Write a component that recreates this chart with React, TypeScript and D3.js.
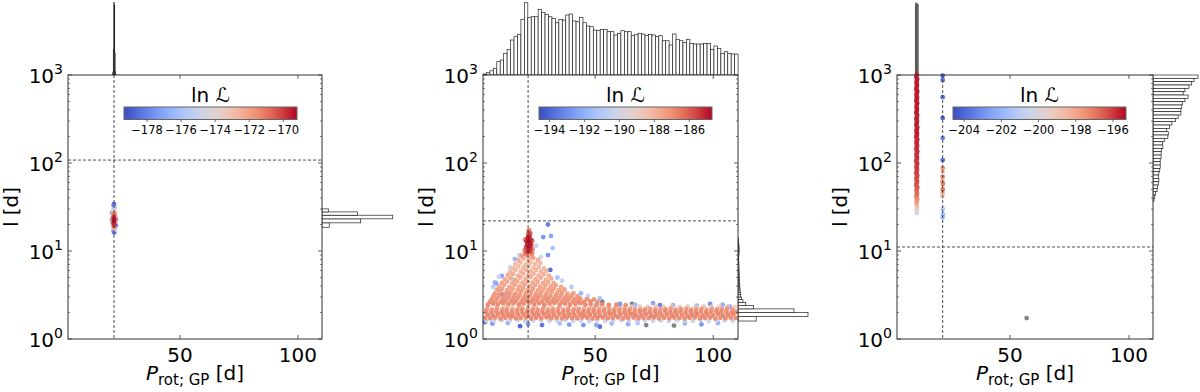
import React from 'react';
import * as d3 from 'd3';

// ---------- data ----------
// points are [P_rot (d), l (d), lnL]; lnL null -> drawn grey

// left panel: tight cluster
const p1Points = [
  [22.0,19.0,-170.6],[22.1,20.0,-169.9],[21.9,21.0,-169.6],[22.0,22.0,-169.4],[22.1,23.0,-169.5],
  [21.9,24.0,-169.9],[22.0,25.2,-170.5],[22.1,26.4,-171.2],[21.4,20.5,-171.8],[22.6,21.5,-172],
  [21.4,23.5,-171.5],[22.6,24.5,-172.2],[21.5,26,-172.8],[22.5,27.5,-173.5],[21.8,28.5,-174],
  [22.2,18,-173],[21.5,18.5,-174.2],[22.5,17.5,-175.5],[21.9,29.8,-175.5],[22.2,31,-176.5],
  [21.1,22.5,-176.8],[22.9,22.8,-177.2],[21.8,17.0,-177.5],[22.1,16.2,-178.8],[21.9,32.5,-178.2],
  [22.0,34,-179],[21.2,27,-177.8],[22.8,19.5,-178.2]
];

// middle panel: the band near l ~ 2 (rows) + cloud + peak + outliers
const bandRow1 = [[3.4,1.74],[5.6,1.72],[7.7,1.75],[9.9,1.71],[12.0,1.74],[14.2,1.76],[16.4,1.72],[18.5,1.73],[20.7,1.75],[22.9,1.71],[25.0,1.74],[27.2,1.73],[29.4,1.76],[31.5,1.72],[33.7,1.74],[35.9,1.71],[38.0,1.75],[40.2,1.73],[42.4,1.72],[44.5,1.76],[46.7,1.74],[48.9,1.71],[51.0,1.73],[53.2,1.75],[55.4,1.72],[57.5,1.74],[59.7,1.76],[61.9,1.71],[64.0,1.73],[66.2,1.75],[68.4,1.72],[70.5,1.74],[72.7,1.73],[74.9,1.76],[77.0,1.71],[79.2,1.74],[81.4,1.72],[83.5,1.75],[85.7,1.73],[87.9,1.71],[90.0,1.74],[92.2,1.76],[94.4,1.72],[96.5,1.73],[98.7,1.75],[100.9,1.71],[103.0,1.74],[105.2,1.72],[107.4,1.75],[109.5,1.73]];
const bandRow2 = [[4.5,1.88],[6.7,1.86],[8.8,1.90],[11.0,1.87],[13.1,1.89],[15.3,1.85],[17.5,1.88],[19.6,1.90],[21.8,1.86],[24.0,1.89],[26.1,1.87],[28.3,1.91],[30.5,1.86],[32.6,1.88],[34.8,1.90],[37.0,1.85],[39.1,1.88],[41.3,1.87],[43.5,1.90],[45.6,1.86],[47.8,1.89],[50.0,1.87],[52.1,1.85],[54.3,1.88],[56.5,1.90],[58.6,1.86],[60.8,1.89],[63.0,1.87],[65.1,1.91],[67.3,1.86],[69.5,1.88],[71.6,1.90],[73.8,1.85],[76.0,1.88],[78.1,1.87],[80.3,1.90],[82.5,1.86],[84.6,1.89],[86.8,1.87],[89.0,1.85],[91.1,1.88],[93.3,1.90],[95.5,1.86],[97.6,1.89],[99.8,1.87],[102.0,1.91],[104.1,1.86],[106.3,1.88],[108.5,1.90]];
const bandRow3 = [[3.8,2.03],[6.0,2.01],[8.1,2.05],[10.3,2.02],[12.4,2.04],[14.6,2.00],[16.8,2.03],[18.9,2.06],[21.1,2.02],[23.3,2.04],[25.4,2.01],[27.6,2.05],[29.8,2.02],[31.9,2.03],[34.1,2.06],[36.3,2.01],[38.4,2.04],[40.6,2.02],[42.8,2.05],[44.9,2.00],[47.1,2.03],[49.3,2.04],[51.4,2.02],[53.6,2.06],[55.8,2.01],[57.9,2.03],[60.1,2.05],[62.3,2.02],[64.4,2.04],[66.6,2.00],[68.8,2.03],[70.9,2.05],[73.1,2.02],[75.3,2.04],[77.4,2.01],[79.6,2.06],[81.8,2.02],[83.9,2.03],[86.1,2.05],[88.3,2.01],[90.4,2.04],[92.6,2.02],[94.8,2.06],[96.9,2.01],[99.1,2.03],[101.3,2.05],[103.4,2.02],[105.6,2.04],[107.8,2.01],[109.7,2.03]];
const bandRow4 = [[4.1,2.18],[6.3,2.16],[8.4,2.20],[10.6,2.17],[12.7,2.19],[14.9,2.15],[17.1,2.18],[19.2,2.21],[21.4,2.17],[23.6,2.19],[25.7,2.16],[27.9,2.20],[30.1,2.17],[32.2,2.18],[34.4,2.21],[36.6,2.16],[38.7,2.19],[40.9,2.17],[43.1,2.20],[45.2,2.15],[47.4,2.18],[49.6,2.19],[51.7,2.16],[53.9,2.20],[56.1,2.17],[58.2,2.18],[60.4,2.21],[62.6,2.16],[64.7,2.19],[66.9,2.17],[69.1,2.15],[71.2,2.18],[73.4,2.20],[75.6,2.16],[77.7,2.19],[79.9,2.17],[82.1,2.21],[84.2,2.16],[86.4,2.18],[88.6,2.19],[90.7,2.15],[92.9,2.18],[95.1,2.20],[97.2,2.16],[99.4,2.19],[101.6,2.17],[103.7,2.18],[105.9,2.21],[108.1,2.16]];
const bandLow = [[3.9,1.62],[7.1,1.60],[10.4,1.63],[13.8,1.61],[17.2,1.64],[20.3,1.60],[23.8,1.62],[27.1,1.63],[30.6,1.60],[33.9,1.62],[37.3,1.64],[40.7,1.61],[44.0,1.62],[47.5,1.60],[50.8,1.63],[54.2,1.61],[57.6,1.62],[61.0,1.64],[64.3,1.60],[67.7,1.62],[71.1,1.63],[74.5,1.61],[77.9,1.62],[81.2,1.60],[84.6,1.63],[88.0,1.62],[91.4,1.61],[94.7,1.64],[98.1,1.60],[101.5,1.62],[104.9,1.63],[108.2,1.61]];
const bandHigh = [[4.8,2.32],[8.2,2.35],[11.5,2.31],[14.9,2.34],[18.3,2.33],[21.7,2.36],[25.0,2.32],[28.4,2.34],[31.8,2.31],[35.2,2.35],[38.5,2.33],[41.9,2.32],[45.3,2.35],[48.7,2.31],[52.0,2.34],[55.4,2.32],[58.8,2.35],[62.2,2.31],[65.5,2.33],[68.9,2.34],[72.3,2.31],[75.7,2.35],[79.0,2.32],[82.4,2.33],[85.8,2.31],[89.2,2.34],[92.5,2.32],[95.9,2.35],[99.3,2.31],[102.7,2.33],[106.0,2.34],[109.2,2.32]];
const bandLnL = [-186.8, -186.7, -186.8, -187.1, -190.4, -188.9];

const cloudRows = [
  { lnL: -186.8, pts: [[4.5,2.45],[6.7,2.52],[8.8,2.47],[11.0,2.55],[13.2,2.48],[15.4,2.56],[17.6,2.46],[19.8,2.53],[22.0,2.58],[24.1,2.47],[26.3,2.54],[28.5,2.45],[30.7,2.52],[32.8,2.57],[35.0,2.46],[37.2,2.53],[39.4,2.45],[41.6,2.51],[43.7,2.55],[45.9,2.46],[48.1,2.5],[50.5,2.44],[53.0,2.48],[55.8,2.44],[59.0,2.46],[63,2.43]] },
  { lnL: -186.9, pts: [[5.5,2.65],[7.8,2.7],[10,2.66],[12.1,2.72],[14.3,2.67],[16.5,2.7],[18.7,2.65],[20.9,2.73],[23.1,2.68],[25.2,2.71],[27.4,2.66],[29.6,2.72],[31.8,2.67],[33.9,2.7],[36.1,2.65],[38.3,2.71],[40.5,2.66],[42.8,2.69],[45.2,2.65],[48,2.67],[51,2.64]] },
  { lnL: -187.0, pts: [[6.3,2.86],[8.5,2.92],[10.7,2.85],[12.9,2.9],[15.1,2.87],[17.2,2.94],[19.4,2.86],[21.6,2.9],[23.8,2.85],[25.9,2.93],[28.1,2.87],[30.3,2.91],[32.5,2.85],[34.7,2.89],[36.9,2.86],[39.1,2.92],[41.3,2.84],[43.7,2.88],[46.5,2.83],[49.5,2.82]] },
  { lnL: -187.1, pts: [[7,3.08],[9.2,3.14],[11.4,3.06],[13.6,3.12],[15.8,3.09],[18,3.15],[20.2,3.07],[22.4,3.13],[24.6,3.08],[26.7,3.14],[28.9,3.06],[31.1,3.11],[33.3,3.08],[35.5,3.12],[37.7,3.05],[40,3.1],[42.5,3.04]] },
  { lnL: -187.2, pts: [[7.6,3.3],[9.8,3.42],[12,3.28],[14.2,3.38],[16.3,3.3],[18.5,3.45],[20.7,3.33],[22.9,3.42],[25,3.29],[27.2,3.4],[29.4,3.31],[31.6,3.44],[33.8,3.3],[36,3.37],[38.3,3.27],[40.8,3.32]] },
  { lnL: -187.3, pts: [[8.4,3.62],[10.6,3.7],[12.8,3.6],[15,3.72],[17.2,3.64],[19.4,3.75],[21.5,3.63],[23.7,3.71],[25.9,3.6],[28.1,3.69],[30.2,3.62],[32.4,3.72],[34.6,3.6],[37,3.65]] },
  { lnL: -187.4, pts: [[9.4,3.95],[11.5,4.1],[13.7,3.92],[15.9,4.12],[18,3.98],[20.2,4.15],[22.4,3.96],[24.6,4.1],[26.7,3.93],[28.9,4.06],[31.1,3.95],[33.3,4.08],[35.6,3.9]] },
  { lnL: -187.5, pts: [[10.5,4.35],[12.7,4.48],[14.9,4.32],[17,4.5],[19.2,4.38],[21.4,4.52],[23.5,4.36],[25.7,4.47],[27.9,4.33],[30.1,4.44],[32.4,4.3]] },
  { lnL: -187.6, pts: [[11.8,4.75],[14,4.95],[16.1,4.7],[18.3,5.0],[20.5,4.82],[22.7,5.05],[24.8,4.78],[27,4.96],[29.2,4.72],[31.4,4.88]] },
  { lnL: -187.7, pts: [[13,5.3],[15.2,5.45],[17.4,5.25],[19.5,5.5],[21.7,5.35],[23.9,5.52],[26,5.28],[28.2,5.42],[30.4,5.25]] },
  { lnL: -187.9, pts: [[14,5.8],[16.2,6.05],[18.4,5.85],[20.6,6.1],[22.7,5.9],[24.9,6.08],[27.1,5.82],[29.3,5.95]] },
  { lnL: -188.1, pts: [[15.2,6.4],[17.4,6.65],[19.6,6.45],[21.8,6.7],[23.9,6.5],[26.1,6.6],[28.3,6.35]] },
  { lnL: -188.0, pts: [[16.2,7.1],[18.4,7.35],[20.6,7.05],[22.6,7.4],[24.6,7.15],[26.8,7.3]] },
  { lnL: -187.7, pts: [[17.5,7.9],[19.7,8.2],[21.8,7.95],[23.8,8.25],[25.8,7.9]] },
  { lnL: -187.2, pts: [[19,8.8],[21.2,9.0],[23.2,8.7],[20.3,9.3],[22.7,9.4]] }
];

const p2Peak = [
  [21.2,9.7,-185.6],[22.3,9.9,-185.4],[21.6,10.4,-185.2],[22.6,10.8,-185.3],[20.8,11.1,-185.5],
  [21.9,11.4,-185.0],[22.9,11.7,-185.3],[21.3,12.0,-185.1],[22.4,12.4,-184.9],[20.9,12.8,-185.3],
  [21.8,13.1,-185.0],[22.7,13.5,-185.2],[21.4,14.0,-185.1],[22.2,14.5,-185.3],[21.7,15.2,-185.5],
  [22.5,15.8,-185.8],[21.9,16.6,-186.2],[20.2,10.2,-186.4],[23.5,10.4,-186.6],[20.3,13.5,-186.5],
  [23.4,13.0,-186.3],[22.0,17.4,-187],[20.5,9.2,-186.8],[23.3,9.4,-186.7]
];

const p2Outliers = [
  [3.3,1.56,-194],[10.5,5.2,-192.5],[11,3.2,-193.5],[12.6,3.3,-192],[9,3.7,-191.5],[8,4.3,-192.8],
  [16,8.1,-192],[18,9,-191],[14,6.5,-190.5],[28,14.4,-193],[30,20,-193.5],[31.3,14.8,-192.5],
  [30,9,-193],[32,10.8,-191.5],[31,6.1,-194],[34,5,-191.5],[36,4.6,-190.5],[40,3.9,-191],
  [44,3.3,-192],[47,3.1,-190.5],[52,2.9,-191.5],[18.2,1.4,-194.2],[21.6,1.48,-193],[27.5,1.44,-193.8],
  [45,1.44,-193],[50.5,1.44,-192.5],[52,1.38,-194],[60.5,2.5,-193],[74.5,2.56,-192.5],[77.5,2.43,-193.5],
  [93,2.4,-192],[98.7,2.5,-193],[107,2.33,-192.5],[6.5,1.5,-193],[13,1.52,-192],[35,1.5,-191.5],
  [39,1.46,-192.8],[57,1.5,-191.8],[64,1.48,-192.5],[68,1.52,-191.5],[88,1.5,-192],[95,1.47,-193],
  [102,1.52,-192.2],[83,2.42,-192],[67,2.45,-191.8],[104,2.45,-192.2],[7.5,4.4,-192],[6.8,3.9,-191],
  [9.2,5.1,-190.3],[25,11.5,-190.5],[27,8.5,-190],[15,4.8,-190.8]
];

const p2Grey = [[53,2.65,null],[65.6,2.5,null],[71.6,1.44,null],[83.4,1.42,null]];

// right panel: column at short period + few points on the dashed line
const p3Column = [
  [10.8,1000,-195.6],[10.6,950,-195.5],[11.0,900,-195.7],[10.8,855,-195.5],[10.7,810,-195.6],[10.9,770,-195.5],
  [10.8,730,-195.7],[10.6,690,-195.6],[11.0,655,-195.5],[10.8,620,-195.6],[10.7,590,-195.8],[10.9,560,-195.5],
  [10.8,530,-195.6],[10.6,505,-195.7],[11.0,480,-195.5],[10.8,455,-195.6],[10.7,430,-195.8],[10.9,410,-195.6],
  [10.8,390,-195.5],[10.6,370,-195.7],[11.0,350,-195.6],[10.8,330,-195.8],[10.7,315,-195.6],[10.9,300,-195.7],
  [10.8,285,-195.6],[10.6,270,-195.7],[11.0,255,-195.6],[10.8,242,-195.7],[10.7,230,-195.6],[10.9,218,-195.7],
  [10.8,207,-195.6],[10.6,196,-195.8],[11.0,186,-195.7],[10.8,177,-195.7],[10.7,168,-195.8],[10.9,159,-195.7],
  [10.8,151,-195.8],[10.6,143,-195.9],[11.0,136,-195.8],[10.8,129,-195.8],[10.7,122,-195.9],[10.9,116,-195.8],
  [10.8,110,-195.9],[10.6,104,-196.0],[11.0,99,-195.9],[10.8,94,-196.0],[10.7,89,-196.0],[10.9,85,-196.1],
  [10.8,80,-196.0],[10.6,76,-196.2],[11.0,72,-196.1],[10.8,69,-196.2],[10.7,65,-196.2],[10.9,62,-196.4],
  [10.8,59,-196.3],[10.6,56,-196.5],[11.0,53,-196.4],[10.8,50,-196.6],[10.7,48,-196.7],[10.9,45,-196.8],
  [10.8,43,-197.0],[10.6,41,-197.2],[11.0,39,-197.4],[10.8,37,-197.7],[10.7,35,-198.0],[10.8,33,-198.5],
  [10.9,31,-199.2],[10.8,29,-199.8],[10.8,27,-200.4]
];
const p3Line = [
  [21.7,985,-204.3],[21.7,880,-204],[21.7,560,-203.8],[21.7,325,-204.2],[21.7,192,-203.5],[21.7,108,-204],
  [21.7,88,-197.5],[21.7,80,-198.5],[21.7,70,-197.2],[21.6,62,-198],[21.8,58,-197],[21.7,50,-196.8],
  [21.7,46,-198.2],[21.6,42,-199],[21.7,30,-201.5],[21.8,26,-202],[21.7,24,-201.8],[57,1.73,null]
];

// marginal histograms (relative counts, % of tallest bar)
const p1TopCounts = [1, 4, 35, 100, 96, 30, 5, 1];
const p1RightCounts = [10.3, 54.7, 100, 50, 8.9];
const p2TopCounts = [1.4,3.2,5.9,9.3,18.4,20.7,30,35.5,48.4,53,56.3,77,100,79.8,80.6,80.6,90.9,86.7,84,80.6,78.4,72.3,77,76,83,84.4,74.7,73.7,79.8,72.3,67.8,66.8,62.2,61.3,63.2,63.2,59.9,59.9,55.3,57.7,61.3,59.9,59.9,54.4,56.3,57.7,56.7,54.4,56.3,55.3,53,54.4,47.4,47.4,41.5,56.7,49.4,47.4,44.7,49.4,43.8,42.9,42.9,42.9,43.8,43.8,35.5,40.1,36.9,30,32.2,30,29,29];
const p2RightCounts = [26,100,80,22,11,7,5,4,3.5,3,3,2.5,2.5,2.2,2,2,1.8,1.7,1.6,1.5,1.5,1.4,1.4,1.3,1.3,1.2,1.2,1.2,1.1,1.1,1.1,1,1,1,1,1,1,1.2,1.3,1.3,1.4,1.4,1.5,1.4,1.4,1.3,1.3,1.3,1.2,1.2,1.1,1.1,1,1,0.9,0.8,0.7,0.6,0.5,0.4,0.3,0.2];
const p3TopCounts = [100, 99, 98];
const p3RightCounts = [100,91,86,80,71,67,78,71,65,64,62,62,56,50,42,37,30,34,33,25,21,22,19,18,18,16,16,16,15,13,12,13,12,10,9,6,4,2];

const cb1Ticks = [-178, -176, -174, -172, -170];
const cb2Ticks = [-194, -192, -190, -188, -186];
const cb3Ticks = [-204, -202, -200, -198, -196];
const xTickValues = [50, 100];

// ---------- drawing ----------
const FONT = "'DejaVu Sans', sans-serif";
const Y_TOP = 75, Y_BOT = 339;
const yScale = d3.scaleLog().domain([1, 1000]).range([Y_BOT, Y_TOP]);
const coolwarm = d3.interpolateRgbBasis(['#3b4cc0', '#6788ee', '#9abbff', '#c9d7f0', '#edd1c2', '#f7a889', '#e26952', '#b40426']);

function withLnL(rows, lnL) {
  return rows.map(d => [d[0], d[1], lnL]);
}

const p2Points = [
  ...withLnL(bandLow, bandLnL[4]), ...withLnL(bandHigh, bandLnL[5]),
  ...withLnL(bandRow1, bandLnL[0]), ...withLnL(bandRow2, bandLnL[1]),
  ...withLnL(bandRow3, bandLnL[2]), ...withLnL(bandRow4, bandLnL[3]),
  ...cloudRows.flatMap(r => withLnL(r.pts, r.lnL)),
  ...p2Peak, ...p2Outliers, ...p2Grey
];

const panels = [
  { id: 'a', x0: 68, x1: 322, xDomain: [2.5, 110.2], cbDomain: [-179.35, -169.2], cbTicks: cb1Ticks,
    points: p1Points, vline: 22, hline: 108,
    top: { start: 21.3, width: 0.2, counts: p1TopCounts, max: 72.5 },
    right: { start: 18.6, width: 2.3, counts: p1RightCounts, max: 70.7 } },
  { id: 'b', x0: 483, x1: 738, xDomain: [2.5, 110.5], cbDomain: [-194.6, -184.7], cbTicks: cb2Ticks,
    points: p2Points, vline: 21.6, hline: 22,
    top: { start: 2.5, width: 1.46, counts: p2TopCounts, max: 72.3 },
    right: { start: 1.6, width: 0.2, counts: p2RightCounts, max: 70 } },
  { id: 'c', x0: 897, x1: 1153, xDomain: [2.5, 110.1], cbDomain: [-204.6, -195.3], cbTicks: cb3Ticks,
    points: [...p3Line, ...p3Column], vline: 21.7, hline: 11.1,
    top: { start: 10.2, width: 0.4, counts: p3TopCounts, max: 72 },
    right: { log: true, start: 3, width: -0.0379, counts: p3RightCounts, max: 45 } }
];

function Panel({ p }) {
  const x = d3.scaleLinear().domain(p.xDomain).range([p.x0, p.x1]);
  const cNorm = d3.scaleLinear().domain(p.cbDomain).range([0, 1]).clamp(true);
  const cbX = d3.scaleLinear().domain(p.cbDomain).range([p.x0 + 56, p.x0 + 229]);
  const topLen = d3.scaleLinear().domain([0, 100]).range([0, p.top.max]);
  const rightLen = d3.scaleLinear().domain([0, 100]).range([0, p.right.max]);
  const edge = (h, i) => h.log ? Math.pow(10, h.start + i * h.width) : h.start + i * h.width;

  const pts = [...p.points].sort((a, b) => (a[2] ?? -1e9) - (b[2] ?? -1e9));
  const ticks = yScale.ticks();
  const majors = ticks.filter(v => Math.abs(Math.log10(v) - Math.round(Math.log10(v))) < 1e-9);
  const minors = ticks.filter(v => !majors.includes(v));
  const cx = (p.x0 + p.x1) / 2;
  const gid = 'cb-' + p.id;
  const cb0 = cbX.range()[0], cb1 = cbX.range()[1];

  return (
    <g>
      {/* top marginal histogram */}
      {p.top.counts.map((c, i) => {
        const a = x(edge(p.top, i)), b = x(edge(p.top, i + 1));
        return <rect key={'t' + i} x={a} y={Y_TOP - topLen(c)} width={b - a} height={topLen(c)}
          fill="#fff" stroke="#222" strokeWidth={0.7} />;
      })}
      {/* right marginal histogram */}
      {p.right.counts.map((c, i) => {
        const ya = yScale(edge(p.right, i)), yb = yScale(edge(p.right, i + 1));
        return <rect key={'r' + i} x={p.x1} y={Math.min(ya, yb)} width={rightLen(c)} height={Math.abs(yb - ya)}
          fill="#fff" stroke="#222" strokeWidth={0.7} />;
      })}
      <rect x={p.x0} y={Y_TOP} width={p.x1 - p.x0} height={Y_BOT - Y_TOP} fill="#fff" />
      {/* scatter */}
      {pts.map((d, i) => (
        <circle key={'p' + i} cx={x(d[0])} cy={yScale(d[1])} r={2.4}
          fill={d[2] === null ? '#7a7a7a' : coolwarm(cNorm(d[2]))} fillOpacity={0.92} />
      ))}
      {/* dashed reference lines */}
      <line x1={x(p.vline)} x2={x(p.vline)} y1={Y_TOP} y2={Y_BOT} stroke="#222" strokeWidth={0.8} strokeDasharray="3,2" />
      <line x1={p.x0} x2={p.x1} y1={yScale(p.hline)} y2={yScale(p.hline)} stroke="#222" strokeWidth={0.8} strokeDasharray="3,2" />
      {/* frame + ticks */}
      <rect x={p.x0} y={Y_TOP} width={p.x1 - p.x0} height={Y_BOT - Y_TOP} fill="none" stroke="#333" strokeWidth={1} />
      {majors.map(v => (
        <g key={'ym' + v}>
          <line x1={p.x0} x2={p.x0 + 4} y1={yScale(v)} y2={yScale(v)} stroke="#333" strokeWidth={0.8} />
          <line x1={p.x1} x2={p.x1 - 4} y1={yScale(v)} y2={yScale(v)} stroke="#333" strokeWidth={0.8} />
          <text x={p.x0 - 5} y={yScale(v) + 8} textAnchor="end" fontSize={20} fontFamily={FONT}>
            10<tspan dy={-9} fontSize={14}>{Math.round(Math.log10(v))}</tspan>
          </text>
        </g>
      ))}
      {minors.map(v => (
        <g key={'yn' + v}>
          <line x1={p.x0} x2={p.x0 + 2} y1={yScale(v)} y2={yScale(v)} stroke="#333" strokeWidth={0.6} />
          <line x1={p.x1} x2={p.x1 - 2} y1={yScale(v)} y2={yScale(v)} stroke="#333" strokeWidth={0.6} />
        </g>
      ))}
      {xTickValues.map(v => (
        <g key={'x' + v}>
          <line x1={x(v)} x2={x(v)} y1={Y_BOT} y2={Y_BOT - 4} stroke="#333" strokeWidth={0.8} />
          <line x1={x(v)} x2={x(v)} y1={Y_TOP} y2={Y_TOP + 4} stroke="#333" strokeWidth={0.8} />
          <text x={x(v)} y={362} textAnchor="middle" fontSize={20} fontFamily={FONT}>{v}</text>
        </g>
      ))}
      {/* axis labels */}
      <text x={cx} y={380} textAnchor="middle" fontSize={20} fontFamily={FONT}>
        <tspan fontStyle="italic">P</tspan>
        <tspan fontSize={15} dy={5}>rot; GP</tspan>
        <tspan dy={-5}> [d]</tspan>
      </text>
      <text transform={`translate(${p.x0 - 50},${(Y_TOP + Y_BOT) / 2}) rotate(-90)`} textAnchor="middle"
        fontSize={20} fontFamily={FONT}>l [d]</text>
      {/* colorbar */}
      <defs>
        <linearGradient id={gid} x1="0" x2="1" y1="0" y2="0">
          {d3.range(0, 1.0001, 0.05).map(t => <stop key={t} offset={t} stopColor={coolwarm(t)} />)}
        </linearGradient>
      </defs>
      <rect x={cb0} y={107} width={cb1 - cb0} height={12.5} fill={`url(#${gid})`} stroke="#666" strokeWidth={1} />
      {p.cbTicks.map(v => (
        <g key={'cb' + v}>
          <line x1={cbX(v)} x2={cbX(v)} y1={119.5} y2={122} stroke="#333" strokeWidth={0.7} />
          <text x={cbX(v)} y={133.5} textAnchor="middle" fontSize={11.5} fontFamily={FONT}>{'\u2212' + Math.abs(v)}</text>
        </g>
      ))}
      <text x={(cb0 + cb1) / 2} y={102} textAnchor="middle" fontSize={20} fontFamily={FONT}>ln {'\u2112'}</text>
    </g>
  );
}

export default function App() {
  return (
    <svg width={1200} height={392} style={{ position: 'absolute', left: 0, top: 0, background: '#fff' }}>
      <rect width={1200} height={392} fill="#fff" />
      {panels.map(p => <Panel key={p.id} p={p} />)}
    </svg>
  );
}
